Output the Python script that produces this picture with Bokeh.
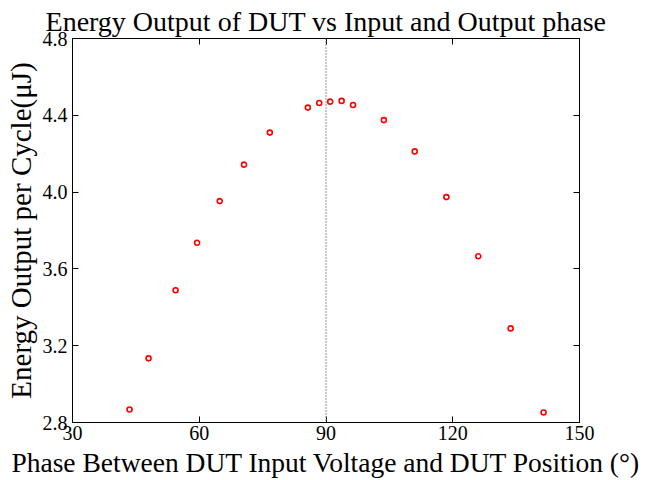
from bokeh.plotting import figure
from bokeh.models import LinearAxis, FixedTicker, PrintfTickFormatter, Span, Range1d
from bokeh.embed import file_html
from bokeh.resources import INLINE

# Data
phase_deg = [43.5, 48.0, 54.4, 59.5, 64.85, 70.6, 76.7, 85.7, 88.4, 91.0, 93.7, 96.4,
             103.7, 111.0, 118.5, 126.05, 133.7, 141.5]
energy_uJ = [2.868, 3.134, 3.489, 3.736, 3.953, 4.143, 4.310, 4.440, 4.464, 4.471, 4.475, 4.454,
             4.375, 4.212, 3.974, 3.666, 3.290, 2.852]
x_ticks = [30, 60, 90, 120, 150]
y_ticks = [2.8, 3.2, 3.6, 4.0, 4.4, 4.8]
vline_x = 90

title_text = "Energy Output of DUT vs Input and Output phase"
x_label = "Phase Between DUT Input Voltage and DUT Position (°)"
y_label = "Energy Output per Cycle(μJ)"

FONT = "Liberation Serif"

p = figure(width=668, height=480, output_backend="svg", toolbar_location=None,
           x_range=Range1d(30, 150), y_range=Range1d(2.8, 4.8),
           min_border_left=72, min_border_right=89, min_border_top=38, min_border_bottom=58,
           x_axis_label=x_label, y_axis_label=y_label)

p.title.text = title_text
p.title.text_font = FONT
p.title.text_font_size = "28px"
p.title.text_font_style = "normal"
p.title.text_color = "black"
p.title.align = "center"
p.title.standoff = 4

p.grid.visible = False
p.outline_line_color = "black"
p.outline_line_width = 1
p.background_fill_color = "white"
p.border_fill_color = "white"

for ax in (p.xaxis[0], p.yaxis[0]):
    ax.axis_label_text_font = FONT
    ax.axis_label_text_font_style = "normal"
    ax.major_label_text_font = FONT
    ax.major_label_text_font_size = "20px"
    ax.major_tick_in = 6
    ax.major_tick_out = 0
    ax.minor_tick_in = 0
    ax.minor_tick_out = 0
    ax.axis_line_color = "black"
    ax.major_tick_line_color = "black"
    ax.major_label_text_color = "black"
    ax.axis_label_text_color = "black"

p.xaxis[0].axis_label_text_font_size = "27.5px"
p.yaxis[0].axis_label_text_font_size = "29px"
p.xaxis[0].ticker = FixedTicker(ticks=x_ticks)
p.yaxis[0].ticker = FixedTicker(ticks=y_ticks)
p.yaxis[0].formatter = PrintfTickFormatter(format="%.1f")
p.xaxis[0].major_label_standoff = 3
p.xaxis[0].axis_label_standoff = 4
p.yaxis[0].major_label_standoff = 5
p.yaxis[0].axis_label_standoff = 3

top_ax = LinearAxis(ticker=FixedTicker(ticks=x_ticks),
                    major_label_overrides={t: "" for t in x_ticks},
                    major_tick_in=6, major_tick_out=0, minor_tick_in=0, minor_tick_out=0,
                    major_label_standoff=0)
right_ax = LinearAxis(ticker=FixedTicker(ticks=y_ticks),
                      major_label_overrides={t: "" for t in y_ticks},
                      major_tick_in=6, major_tick_out=0, minor_tick_in=0, minor_tick_out=0,
                      major_label_standoff=0)
p.add_layout(top_ax, "above")
p.add_layout(right_ax, "right")

p.add_layout(Span(location=vline_x, dimension="height", line_color="#6e6e6e",
                  line_dash="1 2", line_width=1.5))

p.scatter(phase_deg, energy_uJ, marker="circle", size=5, line_width=1.6,
          line_color="red", fill_color="white")

open("out.html", "w").write(file_html(p, INLINE))
